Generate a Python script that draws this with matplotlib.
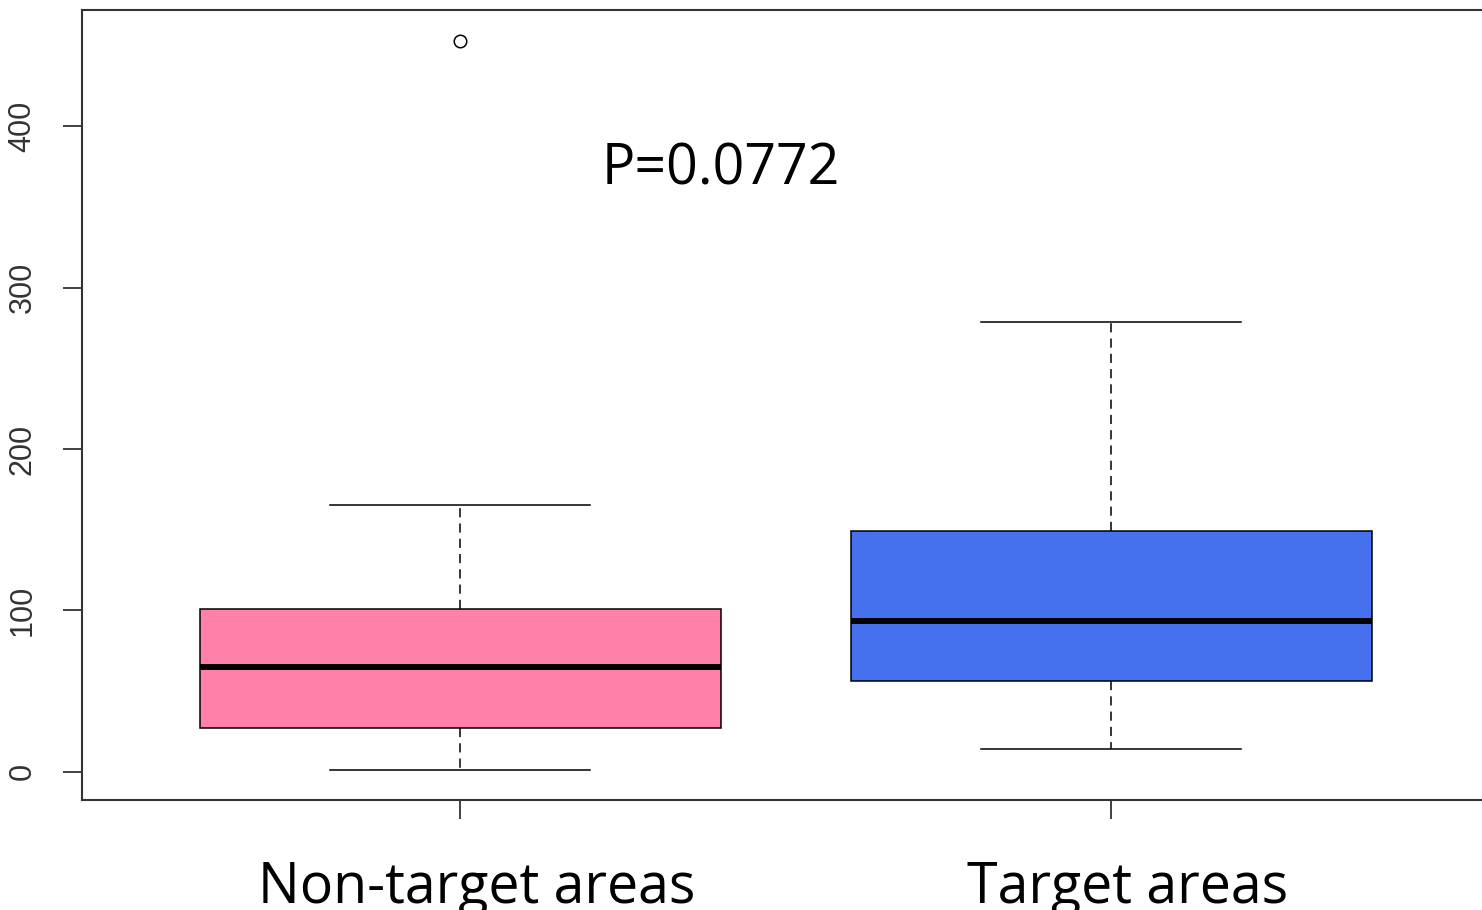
import matplotlib.pyplot as plt
from matplotlib.transforms import blended_transform_factory

# group names and box statistics
groups = ["Non-target areas", "Target areas"]
whislo = [1, 14]
q1 = [27, 56]
med = [65, 93.5]
q3 = [101, 149]
whishi = [165, 279]
outliers = [[453], []]
colors = ["#FF80A8", "#4570EE"]
p_text = "P=0.0772"
yticks = [0, 100, 200, 300, 400]

fig = plt.figure(figsize=(14.82, 9.10), dpi=100)
ax = fig.add_axes([0.0553, 0.1209, 0.9497, 0.868])

stats = []
for i in range(len(groups)):
    stats.append({"whislo": whislo[i], "q1": q1[i], "med": med[i], "q3": q3[i],
                  "whishi": whishi[i], "fliers": outliers[i], "label": groups[i]})

bp = ax.bxp(stats, positions=[1, 2], widths=0.8, patch_artist=True, capwidths=0.4,
            boxprops=dict(edgecolor="black", linewidth=1.1),
            medianprops=dict(color="black", linewidth=4.3, solid_capstyle="butt"),
            whiskerprops=dict(color="black", linewidth=1.1, linestyle=(0, (6, 4))),
            capprops=dict(color="black", linewidth=1.1),
            flierprops=dict(marker="o", markersize=9, markerfacecolor="none",
                            markeredgecolor="black", markeredgewidth=1.1))
for patch, c in zip(bp["boxes"], colors):
    patch.set_facecolor(c)

ax.set_xlim(0.419, 2.581)
ax.set_ylim(-17.5, 472)

ax.set_yticks(yticks)
ax.set_yticklabels([str(t) for t in yticks], rotation=90, va="center",
                   fontsize=22, color="#333333", family="Liberation Sans")
ax.tick_params(axis="y", length=14, width=1.3, color="#333333", pad=18)
ax.set_xticks([1, 2])
ax.set_xticklabels(["", ""])
ax.tick_params(axis="x", length=14, width=1.3, color="#333333")

for s in ax.spines.values():
    s.set_linewidth(1.5)
    s.set_color("#333333")

trans = blended_transform_factory(ax.transData, fig.transFigure)
for i, g in enumerate(groups):
    ax.text(i + 1.025, 0.008, g, transform=trans, ha="center", va="baseline",
            fontsize=40, family="Open Sans", clip_on=False)

ax.text(1.40, 373, p_text, ha="center", va="center", fontsize=40, family="Open Sans")

fig.savefig("out.png", dpi=100)
